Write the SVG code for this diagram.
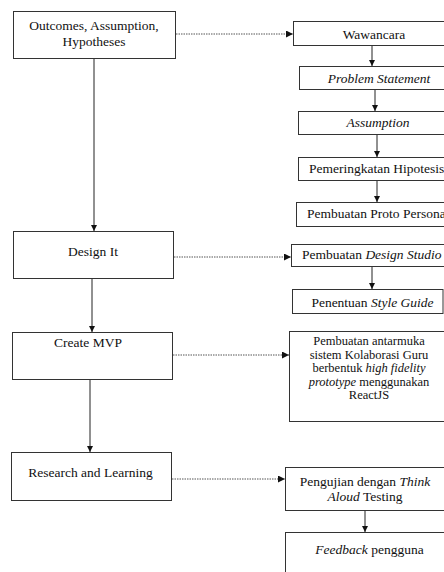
<svg xmlns="http://www.w3.org/2000/svg" width="444" height="572" viewBox="0 0 444 572" font-family="'Liberation Serif', 'DejaVu Serif', serif">
<style>
.box{fill:#fff;stroke:#333;stroke-width:1}
text{font-family:'Liberation Serif','DejaVu Serif',serif}
.t{font-size:13.5px;fill:#111}
.s{font-size:12.5px}
.m{text-anchor:middle}
.i{font-style:italic}
.solid{stroke:#222;stroke-width:1;fill:none}
.dot{stroke:#555;stroke-width:1;stroke-dasharray:1.5 1;fill:none}
</style>
<defs>
<marker id="ah" markerWidth="7" markerHeight="7" refX="7" refY="3.5" orient="auto" markerUnits="userSpaceOnUse">
<path d="M0,0 L7,3.5 L0,7 z" fill="#111"/>
</marker>
<marker id="ahs" markerWidth="6" markerHeight="6" refX="6" refY="3" orient="auto" markerUnits="userSpaceOnUse">
<path d="M0,0 L6,3 L0,6 z" fill="#111"/>
</marker>
</defs>
<rect width="444" height="572" fill="#fff"/>
<g id="connectors">
<line class="solid" x1="94" y1="59" x2="94" y2="231" marker-end="url(#ahs)"/>
<line class="solid" x1="92" y1="279" x2="92" y2="332" marker-end="url(#ahs)"/>
<line class="solid" x1="90" y1="380" x2="90" y2="452" marker-end="url(#ahs)"/>
<line class="solid" x1="372" y1="46" x2="372" y2="66" marker-end="url(#ahs)"/>
<line class="solid" x1="375" y1="90" x2="375" y2="111" marker-end="url(#ahs)"/>
<line class="solid" x1="377" y1="135" x2="377" y2="157" marker-end="url(#ahs)"/>
<line class="solid" x1="377" y1="181" x2="377" y2="202" marker-end="url(#ahs)"/>
<line class="solid" x1="372" y1="267" x2="372" y2="289" marker-end="url(#ahs)"/>
<line class="solid" x1="365" y1="511" x2="365" y2="532" marker-end="url(#ahs)"/>
<line class="dot" x1="176" y1="34" x2="293" y2="34" marker-end="url(#ah)"/>
<line class="dot" x1="174" y1="257" x2="291" y2="257" marker-end="url(#ah)"/>
<line class="dot" x1="173" y1="355" x2="289" y2="355" marker-end="url(#ah)"/>
<line class="dot" x1="172" y1="479" x2="285" y2="479" marker-end="url(#ah)"/>
</g>
<g id="outcomes">
<rect class="box" x="13.5" y="11.5" width="162" height="47"/>
<text class="t m" x="94" y="29.5">Outcomes, Assumption,</text>
<text class="t m" x="94" y="45.5">Hypotheses</text>
</g>
<g id="wawancara">
<rect class="box" x="293.5" y="21.5" width="160" height="24"/>
<text class="t m" x="374" y="39">Wawancara</text>
</g>
<g id="problem">
<rect class="box" x="299.5" y="66.5" width="160" height="23"/>
<text class="t m i" x="379" y="83">Problem Statement</text>
</g>
<g id="assumption">
<rect class="box" x="298.5" y="111.5" width="160" height="23"/>
<text class="t m i" x="378" y="127">Assumption</text>
</g>
<g id="pemeringkatan">
<rect class="box" x="298.5" y="157.5" width="160" height="23"/>
<text class="t" x="309" y="173">Pemeringkatan Hipotesis</text>
</g>
<g id="proto">
<rect class="box" x="296.5" y="202.5" width="160" height="24"/>
<text class="t" x="307" y="218">Pembuatan Proto Persona</text>
</g>
<g id="design-it">
<rect class="box" x="13.5" y="231.5" width="160" height="47"/>
<text class="t m" x="93" y="256">Design It</text>
</g>
<g id="design-studio">
<rect class="box" x="291.5" y="244.5" width="160" height="22"/>
<text class="t" x="302" y="259">Pembuatan <tspan class="i">Design Studio</tspan></text>
</g>
<g id="style-guide">
<rect class="box" x="292.5" y="289.5" width="150.5" height="24"/>
<text class="t m" x="372.5" y="307">Penentuan <tspan class="i">Style Guide</tspan></text>
</g>
<g id="create-mvp">
<rect class="box" x="12.5" y="332.5" width="160" height="47"/>
<text class="t m" x="88" y="347">Create MVP</text>
</g>
<g id="antarmuka">
<rect class="box" x="289.5" y="331.5" width="160" height="90"/>
<text class="t s m" x="369" y="345">Pembuatan antarmuka</text>
<text class="t s m" x="369" y="358.5">sistem Kolaborasi Guru</text>
<text class="t s m" x="369" y="372">berbentuk <tspan class="i">high fidelity</tspan></text>
<text class="t s m" x="369" y="385.5"><tspan class="i">prototype</tspan> menggunakan</text>
<text class="t s m" x="369" y="399">ReactJS</text>
</g>
<g id="research">
<rect class="box" x="11.5" y="452.5" width="160" height="48"/>
<text class="t m" x="90.5" y="477">Research and Learning</text>
</g>
<g id="pengujian">
<rect class="box" x="285.5" y="467.5" width="160" height="43"/>
<text class="t m" x="365" y="486">Pengujian dengan <tspan class="i">Think</tspan></text>
<text class="t m" x="365" y="501"><tspan class="i">Aloud</tspan> Testing</text>
</g>
<g id="feedback">
<rect class="box" x="285.5" y="532.5" width="160" height="60"/>
<text class="t m" x="369.5" y="554"><tspan class="i">Feedback</tspan> pengguna</text>
</g>
</svg>
